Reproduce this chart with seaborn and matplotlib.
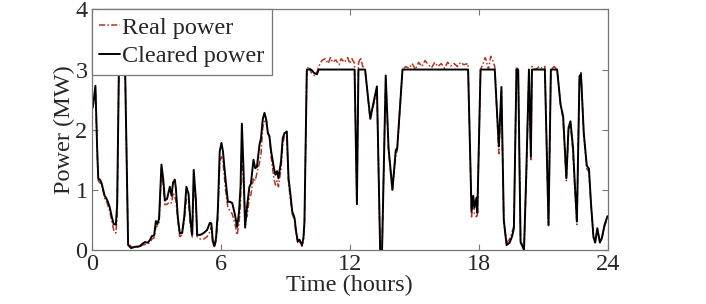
import numpy as np
import pandas as pd
import seaborn as sns
import matplotlib
matplotlib.use('Agg')
import matplotlib.pyplot as plt

# time (hours) and power (MW)
hours = [0.05, 0.17, 0.25, 0.30, 0.37, 0.45, 0.53, 0.60, 0.67, 0.75, 0.84, 0.93, 1.02, 1.12, 1.18,
         1.26, 1.40, 1.55, 1.69, 1.83, 2.00, 2.23, 2.35, 2.47, 2.60, 2.70, 2.79, 2.90, 2.98, 3.05,
         3.13, 3.24, 3.33, 3.40, 3.50, 3.63, 3.71, 3.78, 3.86, 3.91, 4.00, 4.09, 4.20, 4.30, 4.40,
         4.50, 4.59, 4.67, 4.74, 4.84, 4.90, 5.05, 5.20, 5.36, 5.49, 5.56, 5.63, 5.70, 5.78, 5.86,
         5.95, 6.03, 6.10, 6.22, 6.33, 6.43, 6.53, 6.65, 6.76, 6.85, 6.92, 6.98, 7.06, 7.13, 7.22,
         7.33, 7.40, 7.52, 7.60, 7.68, 7.80, 7.87, 7.95, 8.03, 8.11, 8.19, 8.26, 8.34, 8.47, 8.54,
         8.62, 8.68, 8.80, 8.88, 8.96, 9.07, 9.15, 9.24, 9.32, 9.43, 9.50, 9.58, 9.66, 9.77, 9.84,
         9.89, 10.00, 10.10, 10.20, 10.35, 10.47, 10.55, 10.70, 10.85, 11.00, 11.10, 11.20, 11.35,
         11.50, 11.60, 11.75, 11.90, 12.00, 12.10, 12.22, 12.33, 12.40, 12.50, 12.60, 12.71, 12.95,
         13.26, 13.41, 13.50, 13.67, 13.80, 13.98, 14.14, 14.20, 14.45, 14.60, 14.75, 14.90, 15.05,
         15.20, 15.35, 15.50, 15.65, 15.80, 15.95, 16.10, 16.25, 16.40, 16.55, 16.70, 16.85, 17.00,
         17.15, 17.30, 17.50, 17.66, 17.74, 17.80, 17.89, 17.93, 18.08, 18.20, 18.30, 18.45, 18.55,
         18.65, 18.74, 18.93, 19.05, 19.16, 19.29, 19.43, 19.55, 19.63, 19.75, 19.83, 19.94, 20.10,
         20.20, 20.33, 20.42, 20.47, 20.65, 20.80, 20.95, 21.07, 21.24, 21.35, 21.50, 21.64, 21.80,
         21.92, 22.07, 22.17, 22.26, 22.38, 22.45, 22.56, 22.68, 22.75, 22.88, 23.02, 23.12, 23.22,
         23.33, 23.41, 23.51, 23.63, 23.72, 23.85, 23.98]

cleared = [2.38, 2.73, 1.69, 1.19, 1.17, 1.12, 1.00, 0.90, 0.86, 0.80, 0.70, 0.55, 0.43, 0.42, 0.75,
           3.00, 3.00, 3.00, 0.08, 0.03, 0.05, 0.06, 0.10, 0.13, 0.12, 0.16, 0.23, 0.24, 0.48, 0.43,
           0.52, 1.42, 1.15, 0.82, 0.85, 1.05, 0.90, 1.12, 1.17, 1.03, 0.55, 0.28, 0.28, 0.55, 1.05,
           0.93, 0.47, 0.25, 1.33, 0.85, 0.25, 0.25, 0.28, 0.33, 0.45, 0.44, 0.14, 0.06, 0.20, 0.64,
           1.64, 1.78, 1.64, 1.17, 0.80, 0.80, 0.78, 0.60, 0.38, 0.64, 1.06, 2.10, 1.30, 0.37, 0.72,
           1.05, 1.10, 1.50, 1.36, 1.38, 1.75, 1.86, 2.17, 2.28, 2.17, 1.94, 1.89, 1.64, 1.36, 1.25,
           1.31, 1.19, 1.47, 1.86, 1.94, 1.97, 1.19, 0.92, 0.64, 0.53, 0.31, 0.14, 0.17, 0.08, 0.19,
           0.47, 3.00, 3.00, 3.00, 2.94, 2.92, 3.00, 3.00, 3.00, 3.00, 3.00, 3.00, 3.00,
           3.00, 3.00, 3.00, 3.00, 3.00, 3.00, 3.00, 0.76, 3.00, 3.00, 3.00, 3.00, 2.19,
           2.72, 0.00, 0.00, 2.90, 1.70, 1.00, 1.67, 1.67, 3.00, 3.00, 3.00, 3.00, 3.00,
           3.00, 3.00, 3.00, 3.00, 3.00, 3.00, 3.00, 3.00, 3.00, 3.00, 3.00, 3.00, 3.00,
           3.00, 3.00, 3.00, 0.64, 0.90, 0.70, 0.87, 0.62, 3.00, 3.00, 3.00, 3.00, 3.00,
           3.00, 3.00, 1.72, 2.71, 0.50, 0.08, 0.12, 0.23, 0.36, 3.00, 3.00, 0.13, 0.00,
           1.20, 3.00, 1.55, 3.00, 3.00, 3.00, 3.00, 3.00, 0.42, 3.00, 3.00, 3.00, 2.42,
           2.22, 1.19, 2.03, 2.14, 1.70, 1.19, 0.47, 2.89, 2.92, 1.94, 1.40, 1.35, 0.75,
           0.22, 0.12, 0.36, 0.12, 0.20, 0.42, 0.56]

real = [2.35, 2.68, 1.65, 1.15, 1.12, 1.08, 0.97, 0.86, 0.82, 0.74, 0.64, 0.48, 0.33, 0.28, 0.55,
        3.00, 3.00, 3.00, 0.12, 0.05, 0.04, 0.05, 0.08, 0.09, 0.10, 0.12, 0.18, 0.20, 0.38, 0.40,
        0.46, 1.35, 1.05, 0.75, 0.76, 0.80, 0.78, 0.95, 0.88, 0.82, 0.50, 0.22, 0.25, 0.50, 0.84,
        0.80, 0.40, 0.20, 1.10, 0.78, 0.22, 0.18, 0.18, 0.22, 0.30, 0.38, 0.10, 0.05, 0.14, 0.50,
        1.45, 1.55, 1.48, 1.00, 0.70, 0.65, 0.60, 0.45, 0.25, 0.45, 0.80, 1.75, 1.05, 0.60, 0.55,
        0.88, 0.92, 1.20, 1.15, 1.28, 1.45, 1.60, 2.03, 2.15, 2.17, 1.95, 1.90, 1.55, 1.19, 1.08,
        1.15, 1.05, 1.35, 1.75, 1.90, 1.89, 1.10, 0.85, 0.60, 0.50, 0.27, 0.12, 0.14, 0.06, 0.15,
        0.40, 3.00, 3.05, 2.95, 2.90, 2.95, 3.05, 3.15, 3.18, 3.10, 3.20, 3.12, 3.16,
        3.08, 3.18, 3.12, 3.20, 3.10, 3.18, 3.10, 0.80, 3.10, 3.20, 3.05, 3.00, 2.15,
        2.68, 0.02, 0.05, 2.85, 1.65, 0.98, 1.60, 1.64, 3.00, 3.05, 3.02, 3.10, 3.00,
        3.12, 3.05, 3.15, 3.08, 3.03, 3.12, 3.05, 3.10, 3.02, 3.12, 3.06, 3.10, 3.05,
        3.12, 3.08, 3.10, 0.55, 0.85, 0.60, 0.55, 0.58, 3.00, 3.10, 3.20, 3.00, 3.22,
        3.15, 3.05, 1.60, 2.65, 0.45, 0.12, 0.18, 0.30, 0.40, 3.05, 2.98, 0.15, 0.02,
        1.10, 2.95, 1.50, 3.05, 3.00, 3.05, 3.02, 3.05, 0.40, 3.00, 3.05, 3.00, 2.40,
        2.18, 1.15, 1.98, 2.10, 1.62, 1.12, 0.42, 2.85, 2.95, 1.90, 1.35, 1.30, 0.72,
        0.20, 0.15, 0.32, 0.15, 0.18, 0.40, 0.52]

df = pd.DataFrame({'hours': hours, 'cleared': cleared, 'real': real})

sns.set_style('ticks')
plt.rcParams['font.family'] = ['Liberation Serif', 'DejaVu Serif']
plt.rcParams['xtick.direction'] = 'in'
plt.rcParams['ytick.direction'] = 'in'

fig = plt.figure(figsize=(7.06, 3.04), dpi=100)
ax = fig.add_axes([0.130, 0.178, 0.731, 0.791])

sns.lineplot(data=df, x='hours', y='real', ax=ax, color='#b8321e', lw=1.1,
             linestyle=(0, (4, 1.5, 1, 1.5)), label='Real power')
sns.lineplot(data=df, x='hours', y='cleared', ax=ax, color='black', lw=1.4,
             label='Cleared power')

ax.set_xlim(0, 24)
ax.set_ylim(0, 4)
ax.set_xticks([0, 6, 12, 18, 24])
ax.set_yticks([0, 1, 2, 3, 4])
ax.tick_params(labelsize=17.5, length=4, color='#777777', top=True, right=True, pad=3)
for s in ax.spines.values():
    s.set_color('#777777')
    s.set_linewidth(0.9)
ax.set_xlabel('Time (hours)', fontsize=17.5, labelpad=0)
ax.set_ylabel('Power (MW)', fontsize=17.5, labelpad=0)

leg = ax.legend(loc='upper left', fontsize=17.5, frameon=True, fancybox=False,
                borderaxespad=0, handlelength=0.85, handletextpad=0.1,
                borderpad=0.3, labelspacing=0.27)
leg.get_frame().set_edgecolor('#777777')
leg.get_frame().set_linewidth(0.9)
leg.get_frame().set_alpha(1)

fig.savefig('out.png', dpi=100)
